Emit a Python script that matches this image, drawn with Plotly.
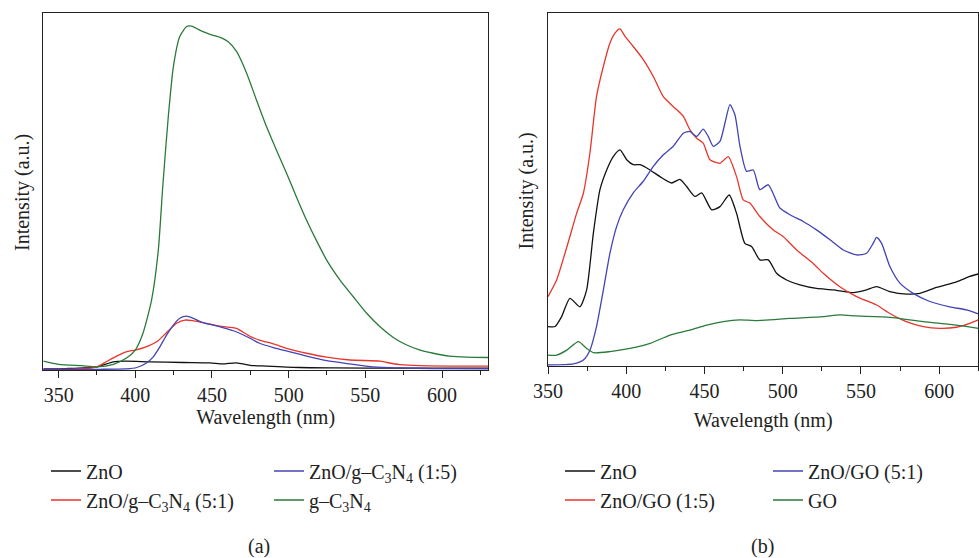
import plotly.graph_objects as go

# ---------------- Panel (a) data ----------------
a_znO_x = [340, 355, 375, 385.7, 394, 409.5, 431, 448.7, 457, 466, 474.8, 485.6, 507, 529, 572.6, 630]
a_znO_y = [0.3, 0.4, 0.9, 2.3, 2.5, 2.3, 2.1, 2.0, 1.7, 2.0, 1.3, 1.1, 0.7, 0.6, 0.5, 0.5]

a_51_x = [340, 366, 375, 381, 387.8, 394, 400, 407, 414, 420.4, 427, 432.4, 437.8, 446.5, 455, 466,
          471.5, 475.9, 481, 490, 500.9, 511.7, 524.8, 540, 559.6, 564, 572.6, 585.7, 605, 630]
a_51_y = [0.2, 0.4, 0.9, 2.3, 3.9, 5.1, 5.6, 6.5, 7.9, 10.5, 13.1, 14.0, 13.8, 13.1, 12.3, 11.7,
          10.3, 9.2, 8.4, 7.3, 5.8, 4.7, 3.6, 2.8, 2.5, 2.1, 1.5, 1.2, 1.1, 1.1]

a_15_x = [340, 377, 394, 401, 407, 411.7, 416, 420.4, 424.8, 429, 433.5, 437.8, 444, 450.9, 457, 464,
          468, 474.8, 481, 490, 500.9, 511.7, 524.8, 540, 555, 572.6, 594, 630]
a_15_y = [0.2, 0.2, 0.3, 0.7, 1.9, 3.7, 6.5, 9.8, 12.6, 14.5, 15.1, 14.5, 13.3, 12.6, 11.9, 11.0,
          10.3, 8.9, 7.5, 6.3, 5.1, 3.9, 2.6, 1.7, 0.9, 0.6, 0.4, 0.3]

a_gcn_x = [340, 350, 365, 375, 385.7, 394, 400, 405, 410.6, 415, 418, 421.5, 424.8, 429, 433.5, 436.7,
           442, 448.7, 455, 460.6, 466, 472.6, 479, 485.6, 492, 498.7, 505, 511.7, 518, 524.8, 533.5,
           542, 550.9, 559.6, 568, 577, 585.7, 594.3, 605, 616, 630]
a_gcn_y = [2.5, 1.6, 1.2, 0.9, 1.6, 3.3, 5.6, 10.3, 19.6, 33.6, 52.0, 71.0, 85.0, 93.5, 96.3, 96.4,
           95.3, 94.1, 93.3, 92.0, 89.3, 83.2, 75.7, 68.2, 61.7, 55.1, 48.6, 42.0, 36.4, 30.8, 25.2,
           20.6, 15.9, 12.1, 9.2, 7.0, 5.6, 4.7, 3.9, 3.6, 3.5]

# ---------------- Panel (b) data ----------------
b_znO_x = [350, 354.5, 358.7, 364, 370.4, 374.7, 379, 383.2, 387.5, 391.7, 396, 400.3, 404.5, 408.8,
           415.2, 421.6, 429, 434.3, 438.6, 443.9, 448.2, 454.6, 459.9, 465.8, 470.5, 475.8, 480.1,
           485.4, 490.8, 496.1, 502.5, 511, 521.6, 532.3, 545.1, 553.6, 560, 568.5, 579.2, 587.7,
           598.3, 611.1, 619.6, 625]
b_znO_y = [11.1, 11.1, 13.9, 19.1, 16.7, 21.5, 37.6, 49.9, 55.5, 59.3, 61.2, 58.4, 57.0, 57.0,
           55.5, 53.6, 51.8, 52.8, 50.8, 48.0, 49.0, 44.2, 45.1, 48.4, 43.2, 34.7, 33.8,
           30.0, 30.0, 26.2, 24.3, 22.9, 21.9, 21.5, 20.7, 21.5, 22.4, 21.0, 20.3, 20.5,
           22.2, 23.8, 25.3, 26.0]

b_15_x = [350, 355.5, 362, 368.3, 372.6, 376.8, 381, 385.4, 389.6, 392.8, 396, 399.2, 404.5, 410.9,
          417.3, 423.7, 430, 436.5, 440.7, 445, 449.2, 453.5, 459.9, 465.2, 470.5, 474.8, 479,
          485.4, 494, 500.3, 508.9, 519.5, 525.9, 536.5, 547.2, 560, 568.5, 579, 589.8, 600.4,
          611, 619.6, 625]
b_15_y = [19.6, 24.3, 33.6, 43.2, 48.9, 60.3, 76.3, 84.9, 91.5, 94.3, 95.5, 93.4, 90.5, 86.8,
          82.0, 76.3, 73.5, 70.7, 66.9, 64.5, 63.1, 58.4, 57.4, 59.3, 53.6, 47.0, 46.1,
          42.3, 38.5, 36.6, 32.8, 29.0, 26.2, 22.4, 19.6, 17.2, 14.8, 12.5, 11.1, 10.6,
          10.9, 12.0, 13.0]

b_51_x = [350, 366.2, 372.6, 376.8, 381, 385.4, 389.6, 393.9, 398.1, 404.5, 410.9, 417.3, 423.7, 430,
          436.5, 440.7, 445, 449.2, 452.4, 455.6, 459.9, 463.1, 466.3, 469.5, 472.7, 476.9, 481.2,
          485.4, 490.8, 498.2, 504.6, 513.1, 521.6, 530.2, 538.7, 547.2, 553.6, 557.8, 560, 563.2,
          568.5, 574.9, 583.4, 594, 606.8, 617.5, 625]
b_51_y = [0.2, 0.5, 1.6, 4.4, 11.1, 21.5, 31.9, 39.5, 44.2, 49.0, 52.3, 56.5, 59.8, 62.2,
          65.9, 66.4, 65.0, 67.1, 65.0, 62.2, 63.6, 68.8, 74.0, 71.1, 62.2, 55.1, 55.5,
          49.9, 51.3, 44.7, 42.8, 40.9, 38.5, 35.7, 32.8, 31.4, 31.9, 34.7, 36.4, 34.7,
          28.1, 23.4, 20.5, 18.2, 16.7, 15.8, 14.7]

b_go_x = [350, 355.5, 362, 369.4, 374.7, 379, 389.6, 402.4, 415.2, 428, 440.7, 451.4, 462, 472.7,
          483.3, 504.6, 525.9, 536.5, 547.2, 568.5, 589.8, 611, 625]
b_go_y = [3.0, 3.0, 4.4, 6.8, 4.9, 3.7, 4.0, 4.9, 6.3, 8.7, 10.1, 11.5, 12.5, 13.0,
          12.8, 13.4, 13.9, 14.4, 14.1, 13.7, 12.5, 11.5, 10.6]

x_tick_vals = [350, 400, 450, 500, 550, 600]
x_title = "Wavelength (nm)"
y_title = "Intensity (a.u.)"
panel_labels = ["(a)", "(b)"]

names_a = ["ZnO", "ZnO/g\u2013C<sub>3</sub>N<sub>4</sub> (5:1)",
           "ZnO/g\u2013C<sub>3</sub>N<sub>4</sub> (1:5)", "g\u2013C<sub>3</sub>N<sub>4</sub>"]
names_b = ["ZnO", "ZnO/GO (1:5)", "ZnO/GO (5:1)", "GO"]

BLACK = "#111111"
RED = "#e8352a"
BLUE = "#4343b5"
GREEN = "#2a7a3a"
FONT = "Liberation Serif, Tinos, 'Times New Roman', 'DejaVu Serif', serif"
FS = 20
LW = 1.3
TXT = "#222222"

fig = go.Figure()

def add(x, y, name, color, xa, ya, legend):
    fig.add_trace(go.Scatter(x=x, y=y, name=name, mode="lines",
                             line=dict(color=color, width=LW, shape="spline", smoothing=0.6),
                             xaxis=xa, yaxis=ya, legend=legend))

add(a_znO_x, a_znO_y, names_a[0], BLACK, "x", "y", "legend")
add(a_51_x, a_51_y, names_a[1], RED, "x", "y", "legend")
add(a_15_x, a_15_y, names_a[2], BLUE, "x", "y", "legend2")
add(a_gcn_x, a_gcn_y, names_a[3], GREEN, "x", "y", "legend2")

add(b_znO_x, b_znO_y, names_b[0], BLACK, "x2", "y2", "legend3")
add(b_15_x, b_15_y, names_b[1], RED, "x2", "y2", "legend3")
add(b_51_x, b_51_y, names_b[2], BLUE, "x2", "y2", "legend4")
add(b_go_x, b_go_y, names_b[3], GREEN, "x2", "y2", "legend4")

W, H = 979, 558


def px_x(p):
    return p / W


def px_y(p):
    return (H - p) / H


xaxis_common = dict(
    showline=True, linecolor=TXT, linewidth=1.2, mirror=True, automargin=False,
    ticks="outside", ticklen=7, tickwidth=1.2, tickcolor=TXT,
    tickvals=x_tick_vals, showgrid=False, zeroline=False,
    minor=dict(ticks="outside", ticklen=4, dtick=25, tickwidth=1.2, tickcolor=TXT, showgrid=False),
    tickfont=dict(family=FONT, size=FS, color=TXT),
    ticklabelstandoff=0,
)
yaxis_common = dict(
    showline=True, linecolor=TXT, linewidth=1.2, mirror=True, automargin=False,
    ticks="", showticklabels=False, showgrid=False, zeroline=False,
    range=[0, 100],
)

legend_common = dict(font=dict(family=FONT, size=FS, color=TXT), bgcolor="rgba(0,0,0,0)",
                     borderwidth=0, xanchor="left", yanchor="top", orientation="v",
                     tracegroupgap=0)

tfont = dict(family=FONT, size=FS, color=TXT)
leg_top = px_y(451.5)

fig.update_layout(
    width=W, height=H,
    margin=dict(l=0, r=0, t=0, b=0, pad=0, autoexpand=False),
    paper_bgcolor="white", plot_bgcolor="white",
    font=tfont,
    xaxis=dict(domain=[px_x(43.3), px_x(488)], range=[340, 630], anchor="y",
               title=dict(text=x_title, font=tfont, standoff=1), **xaxis_common),
    yaxis=dict(domain=[px_y(370), px_y(13.3)], anchor="x", **yaxis_common),
    xaxis2=dict(domain=[px_x(548), px_x(978.3)], range=[350, 625], anchor="y2",
                title=dict(text=x_title, font=tfont, standoff=12), **xaxis_common),
    yaxis2=dict(domain=[px_y(365.7), px_y(13)], anchor="x2", **yaxis_common),
    legend=dict(x=px_x(46), y=leg_top, **legend_common),
    legend2=dict(x=px_x(269), y=leg_top, **legend_common),
    legend3=dict(x=px_x(560), y=leg_top, **legend_common),
    legend4=dict(x=px_x(768), y=leg_top, **legend_common),
    annotations=[
        dict(text=y_title, x=px_x(22), y=px_y(193), xref="paper", yref="paper",
             textangle=-90, xanchor="center", yanchor="middle", showarrow=False, font=tfont),
        dict(text=y_title, x=px_x(526.5), y=px_y(191), xref="paper", yref="paper",
             textangle=-90, xanchor="center", yanchor="middle", showarrow=False, font=tfont),
        dict(text=panel_labels[0], x=px_x(259), y=px_y(546), xref="paper", yref="paper",
             xanchor="center", yanchor="middle", showarrow=False, font=tfont),
        dict(text=panel_labels[1], x=px_x(762), y=px_y(546), xref="paper", yref="paper",
             xanchor="center", yanchor="middle", showarrow=False, font=tfont),
    ],
)

# remove the default 8px page margin so the figure sits at the window's top-left corner
fig.write_html("out.html",
               config={"displayModeBar": False},
               post_script="document.body.style.margin='0px';document.body.style.overflow='hidden';")
